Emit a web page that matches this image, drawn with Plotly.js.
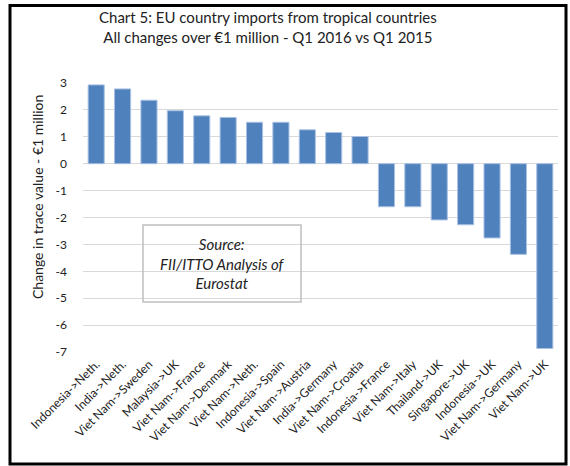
<!DOCTYPE html>
<html>
<head>
<meta charset="utf-8">
<script src="https://cdn.plot.ly/plotly-3.0.1.min.js"></script>
<style>html,body{margin:0;padding:0;background:#fff;}#chart{width:570px;height:466px;}</style>
</head>
<body>
<div id="chart"></div>
<script>
const categories = ["Indonesia->Neth.", "India->Neth.", "Viet Nam->Sweden", "Malaysia->UK", "Viet Nam->France", "Viet Nam->Denmark", "Viet Nam->Neth.", "Indonesia->Spain", "Viet Nam->Austria", "India->Germany", "Viet Nam->Croatia", "Indonesia->France", "Viet Nam->Italy", "Thailand->UK", "Singapore->UK", "Indonesia->UK", "Viet Nam->Germany", "Viet Nam->UK"];
const changeValues = [2.93, 2.78, 2.36, 1.97, 1.78, 1.72, 1.54, 1.54, 1.26, 1.16, 1.01, -1.6, -1.6, -2.09, -2.27, -2.76, -3.37, -6.87];
const yTickValues = [3, 2, 1, 0, -1, -2, -3, -4, -5, -6, -7];
const yTickLabels = ["3", "2", "1", "0", "-1", "-2", "-3", "-4", "-5", "-6", "-7"];
const titleLines = ["Chart 5: EU country imports from tropical countries", "All changes over €1 million - Q1 2016 vs Q1 2015"];
const yAxisTitle = "Change in trace value - €1 million";
const sourceLines = ["Source:", "FII/ITTO Analysis of", "Eurostat"];

const L = 83, R = 12, T = 83, B = 114, W = 570, H = 466;
const pw = W - L - R, ph = H - T - B;
const px = x => (x - L) / pw;
const py = y => (H - B - y) / ph;
const font = "Lato, 'Open Sans', sans-serif";

const trace = {
  type: 'bar',
  x: categories,
  y: changeValues,
  marker: {color: '#4F81BD', line: {color: '#A9C1E3', width: 1}},
  hoverinfo: 'x+y'
};

const layout = {
  width: W, height: H,
  margin: {l: L, r: R, t: T, b: B, pad: 0},
  paper_bgcolor: '#fff', plot_bgcolor: '#fff',
  showlegend: false,
  bargap: 0.39,
  font: {family: font, color: '#222'},
  xaxis: {
    type: 'category',
    tickangle: -45,
    tickfont: {size: 12, color: '#222', family: font},
    showgrid: false, zeroline: false, showline: false, ticks: '',
    ticklabelstandoff: 2,
    automargin: false
  },
  yaxis: {
    range: [-7, 3],
    tickvals: yTickValues,
    ticktext: yTickLabels,
    tickfont: {size: 12, color: '#222', family: font},
    showgrid: true, gridcolor: '#D9D9D9', gridwidth: 1,
    zeroline: true, zerolinecolor: '#D9D9D9', zerolinewidth: 1,
    showline: false, ticks: '',
    ticklabelstandoff: 15,
    automargin: false
  },
  annotations: [
    {text: titleLines.join('<br>'), xref: 'paper', yref: 'paper', x: px(268), y: py(27), xanchor: 'center', yanchor: 'middle', showarrow: false, font: {size: 15, family: font, color: '#222'}},
    {text: yAxisTitle, xref: 'paper', yref: 'paper', x: px(37), y: py(197), textangle: -90, xanchor: 'center', yanchor: 'middle', showarrow: false, font: {size: 14, family: font, color: '#222'}},
    {text: '<i>' + sourceLines.join('<br>') + '</i>', xref: 'paper', yref: 'paper', x: px(222), y: py(263), xanchor: 'center', yanchor: 'middle', showarrow: false, align: 'center', font: {size: 15, family: font, color: '#222'}}
  ],
  shapes: [
    {type: 'rect', xref: 'paper', yref: 'paper', x0: px(143), x1: px(301), y0: py(225), y1: py(302), line: {color: '#BFBFBF', width: 1.5}, fillcolor: 'rgba(0,0,0,0)', layer: 'above'},
    {type: 'rect', xref: 'paper', yref: 'paper', x0: px(10), x1: px(566), y0: py(5.5), y1: py(464), line: {color: '#000', width: 3}, fillcolor: 'rgba(0,0,0,0)', layer: 'above'}
  ]
};

Plotly.newPlot('chart', [trace], layout, {displayModeBar: false, staticPlot: true});
</script>
</body>
</html>
